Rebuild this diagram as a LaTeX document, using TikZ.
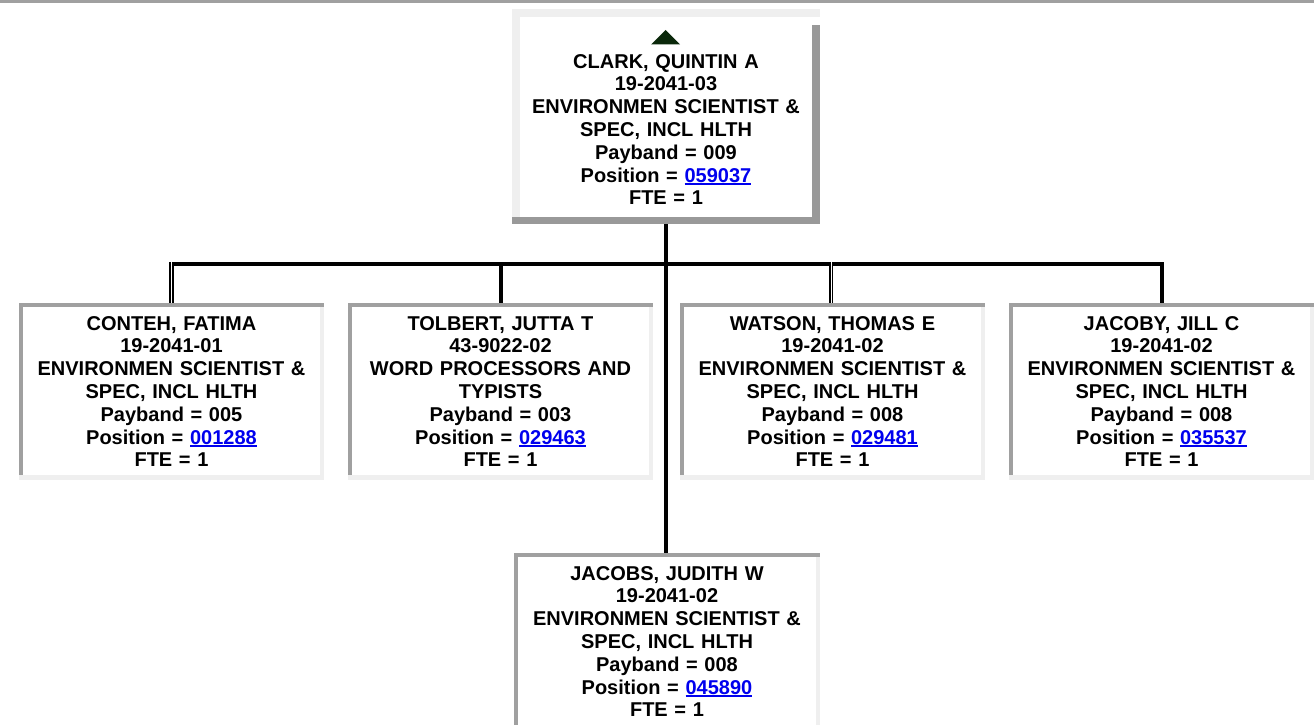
\documentclass[tikz,border=0pt]{standalone}
\usepackage{fontspec}
\setmainfont{Liberation Sans}
\definecolor{bordergray}{HTML}{A0A0A0}
\definecolor{lightedge}{HTML}{EFEFEF}
\definecolor{shadowgray}{HTML}{999999}
\definecolor{linkblue}{RGB}{0,0,238}
\definecolor{trigreen}{RGB}{10,40,10}
\newcommand\plink[1]{\setbox0\hbox{#1}\rlap{\color{linkblue}\rule[-3pt]{\wd0}{1.8pt}}\textcolor{linkblue}{#1}}
\newcommand\cardedges[1]{%
  \fill[bordergray] (#1.north west) rectangle ([yshift=-4pt]#1.north east);
  \fill[bordergray] (#1.north west) rectangle ([xshift=4pt,yshift=5pt]#1.south west);
  \fill[lightedge] ([xshift=-4pt,yshift=-4pt]#1.north east) rectangle (#1.south east);
  \fill[lightedge] ([yshift=5pt]#1.south west) rectangle (#1.south east);
}
\tikzset{
  boxn/.style={rectangle, inner sep=0pt, outer sep=0pt, fill=white},
  childbox/.style={boxn, minimum width=305pt, minimum height=177pt},
  cardtext/.style={anchor=base, inner sep=0pt, outer sep=0pt, text width=300pt, align=center,
    font=\bfseries\fontsize{20}{22.8}\selectfont},
  conn/.style={line width=4pt, draw=black},
  dconn/.style={draw=black, double=white, line width=1.8pt, double distance=1pt},
}
\begin{document}
\begin{tikzpicture}[x=1pt, y=-1pt]
\clip (0,0) rectangle (1314,725);
\fill[white] (0,0) rectangle (1314,725);
\fill[bordergray] (0,0) rectangle (1314,3);

% top card
\node[boxn, minimum width=308pt, minimum height=215pt] (clark) at (666,116.5) {};
\fill[lightedge] (clark.north west) rectangle ([yshift=-8pt]clark.north east);
\fill[lightedge] (clark.north west) rectangle ([xshift=8pt,yshift=7pt]clark.south west);
\fill[shadowgray] ([xshift=-8pt,yshift=-16pt]clark.north east) rectangle (clark.south east);
\fill[shadowgray] ([yshift=7pt]clark.south west) rectangle (clark.south east);
\fill[trigreen] (651,44.5) -- (665.5,30) -- (680,44.5) -- cycle;
\node[cardtext] (clark-t) at (666,68) {CLARK, QUINTIN A\\19-2041-03\\ENVIRONMEN SCIENTIST \&\\SPEC, INCL HLTH\\Payband = 009\\Position = \plink{059037}\\FTE = 1};

% child cards
\node[childbox] (conteh) at (171.5,391.5) {};
\node[childbox] (tolbert) at (500.5,391.5) {};
\node[childbox] (watson) at (832.5,391.5) {};
\node[childbox] (jacoby) at (1161.5,391.5) {};
\node[boxn, minimum width=306pt, minimum height=190pt] (jacobs) at (667,648) {};
\cardedges{conteh}
\cardedges{tolbert}
\cardedges{watson}
\cardedges{jacoby}
\cardedges{jacobs}

\node[cardtext] (conteh-t) at (171.5,330) {CONTEH, FATIMA\\19-2041-01\\ENVIRONMEN SCIENTIST \&\\SPEC, INCL HLTH\\Payband = 005\\Position = \plink{001288}\\FTE = 1};
\node[cardtext] (tolbert-t) at (500.5,330) {TOLBERT, JUTTA T\\43-9022-02\\WORD PROCESSORS AND\\TYPISTS\\Payband = 003\\Position = \plink{029463}\\FTE = 1};
\node[cardtext] (watson-t) at (832.5,330) {WATSON, THOMAS E\\19-2041-02\\ENVIRONMEN SCIENTIST \&\\SPEC, INCL HLTH\\Payband = 008\\Position = \plink{029481}\\FTE = 1};
\node[cardtext] (jacoby-t) at (1161.5,330) {JACOBY, JILL C\\19-2041-02\\ENVIRONMEN SCIENTIST \&\\SPEC, INCL HLTH\\Payband = 008\\Position = \plink{035537}\\FTE = 1};
\node[cardtext] (jacobs-t) at (667,580) {JACOBS, JUDITH W\\19-2041-02\\ENVIRONMEN SCIENTIST \&\\SPEC, INCL HLTH\\Payband = 008\\Position = \plink{045890}\\FTE = 1};

% connectors
\coordinate (busy) at (0,262.3);
\coordinate (busl) at (172,264.3);
\coordinate (busr) at (1163.5,264.3);
\coordinate (wdrop) at ([xshift=-1.5pt]watson.north);
\draw[conn] (clark.south) -- (clark.south |- jacobs.north);
\draw[conn] (busl) -- (busr);
\draw[dconn] (conteh.north |- busy) -- (conteh.north);
\draw[conn] (tolbert.north |- busy) -- (tolbert.north);
\draw[dconn] (wdrop |- busy) -- (wdrop);
\draw[conn] (jacoby.north |- busy) -- (jacoby.north);
\end{tikzpicture}
\end{document}
